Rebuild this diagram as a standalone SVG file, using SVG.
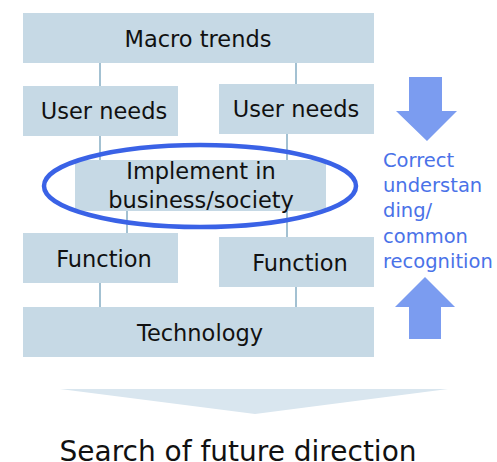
<svg xmlns="http://www.w3.org/2000/svg" width="497" height="462" viewBox="0 0 497 462">
<style>
.box{fill:#c6d9e5}
.lbl{font-family:"DejaVu Sans",Verdana,sans-serif;font-size:22.5px;fill:#111;text-anchor:middle}
.con line{stroke:#a3c1d2;stroke-width:2}
.side{font-family:"DejaVu Sans",Verdana,sans-serif;font-size:19.5px;fill:#4a72e8}
.arr{fill:#7b9cf0}
</style>
<rect width="497" height="462" fill="#fff"/>
<g id="connectors" class="con">
<line x1="100" y1="63" x2="100" y2="86"/>
<line x1="296" y1="63" x2="296" y2="84"/>
<line x1="100" y1="136" x2="100" y2="160"/>
<line x1="287" y1="134" x2="287" y2="160"/>
<line x1="127" y1="210" x2="127" y2="233"/>
<line x1="287" y1="210" x2="287" y2="237"/>
<line x1="100" y1="283" x2="100" y2="307"/>
<line x1="296" y1="287" x2="296" y2="307"/>
</g>
<g id="macro"><rect class="box" x="23" y="13" width="351" height="50"/><text class="lbl" x="198" y="47">Macro trends</text></g>
<g id="user1"><rect class="box" x="23" y="86" width="155" height="50"/><text class="lbl" x="104" y="119">User needs</text></g>
<g id="user2"><rect class="box" x="219" y="84" width="155" height="50"/><text class="lbl" x="296" y="117">User needs</text></g>
<g id="implement"><rect class="box" x="75" y="160" width="251" height="51"/><text class="lbl" x="201" y="179">Implement in</text><text class="lbl" x="201" y="208">business/society</text></g>
<g id="ellipse"><ellipse cx="200" cy="186" rx="156" ry="41" fill="none" stroke="#3a62e6" stroke-width="4.5"/></g>
<g id="func1"><rect class="box" x="23" y="233" width="155" height="50"/><text class="lbl" x="104" y="267">Function</text></g>
<g id="func2"><rect class="box" x="219" y="237" width="155" height="50"/><text class="lbl" x="300" y="271">Function</text></g>
<g id="tech"><rect class="box" x="23" y="307" width="351" height="50"/><text class="lbl" x="200" y="341">Technology</text></g>
<g id="arrows">
<polygon class="arr" points="409,77 442,77 442,111 457,111 427,141 396,111 409,111"/>
<polygon class="arr" points="425,277 455,307 441,307 441,339 409,339 409,307 395,307"/>
</g>
<g id="sidetext"><text class="side" x="383"><tspan x="383" y="167">Correct</tspan><tspan x="383" y="192">understan</tspan><tspan x="383" y="217">ding/</tspan><tspan x="383" y="243">common</tspan><tspan x="383" y="268">recognition</tspan></text></g>
<g id="result">
<polygon points="60,389 448,389 255,414" fill="#d9e6ef"/>
<text x="238" y="461" style="font-family:'DejaVu Sans',Verdana,sans-serif;font-size:28px;fill:#111;text-anchor:middle">Search of future direction</text>
</g>
</svg>
